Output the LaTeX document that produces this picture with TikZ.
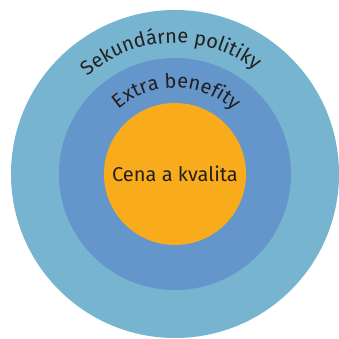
\documentclass[tikz,border=0pt]{standalone}
\usepackage{fontspec}
\setmainfont{Fira Sans}
\usetikzlibrary{decorations.text}
\definecolor{outerc}{HTML}{77B4CF}
\definecolor{midc}{HTML}{6496CC}
\definecolor{innerc}{HTML}{F9AC1B}
\definecolor{txt}{HTML}{231F20}
\tikzset{ring/.style={circle, inner sep=0pt, draw=none},
  lbl/.style={text=txt, font=\fontsize{20}{24}\selectfont},
  arclbl/.style={decorate, decoration={text along path,
    text align=center,
    text={|\fontsize{20}{24}\selectfont\color{txt}|#1}}}}
\begin{document}
\begin{tikzpicture}[x=1pt,y=1pt]
\useasboundingbox (0,0) rectangle (338,339);
\coordinate (c) at (175,165);
\node[ring, fill=outerc, minimum size=328pt] (outer) at (c) {};
\node[ring, fill=midc, minimum size=232pt] (mid) at (c) {};
\node[ring, fill=innerc, minimum size=142pt] (inner) at (c) {};
\node[lbl] (center) at (c) {Cena a kvalita};
\path[arclbl={Sekundárne politiky}] (c) ++(160:131) arc (160:24:131);
\path[arclbl={Extra benefity}] (c) ++(160:86) arc (160:18:86);
\end{tikzpicture}
\end{document}
